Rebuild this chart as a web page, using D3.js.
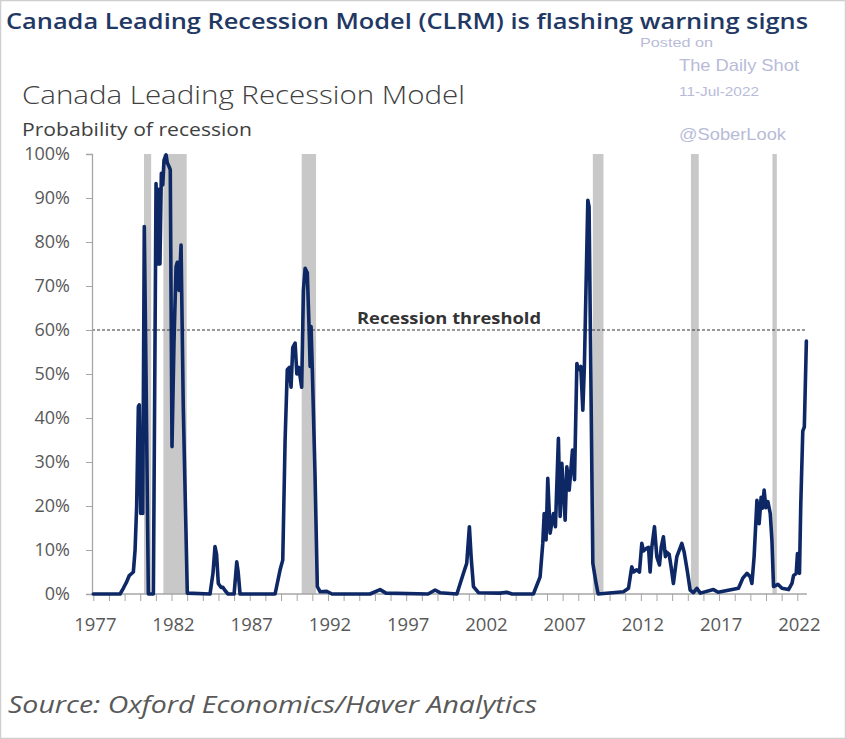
<!DOCTYPE html>
<html><head><meta charset="utf-8">
<script src="https://cdn.jsdelivr.net/npm/d3@7"></script>
<style>body{margin:0;background:#fff} svg{display:block}</style>
</head><body><svg id="chart" width="846" height="739"></svg>
<script>
// ---- data ----
const years = [1977.00,1978.71,1978.92,1979.14,1979.30,1979.56,1979.67,1979.77,1979.88,1979.94,1980.03,1980.09,1980.16,1980.26,1980.37,1980.52,1980.84,
1981.01,1981.09,1981.18,1981.26,1981.35,1981.44,1981.52,1981.65,1981.73,1981.86,1981.92,1982.03,1982.16,1982.29,1982.37,1982.48,1982.61,1982.75,1983.01,
1984.46,1984.65,1984.78,1984.88,1984.99,1985.17,1985.29,1985.42,1985.61,1986.00,1986.17,1986.26,1986.38,
1988.62,1988.94,1989.11,1989.26,1989.40,1989.53,1989.64,1989.75,1989.90,1990.01,1990.13,1990.32,1990.43,1990.54,1990.68,1990.79,1990.86,1990.92,1991.00,1991.17,1991.32,1991.50,1991.92,1992.26,
1994.69,1995.33,1995.71,1998.40,1998.85,1999.16,2000.24,2000.66,2000.87,2001.04,2001.15,2001.30,2001.62,2003.00,2003.43,2003.77,
2005.13,2005.56,2005.73,2005.82,2005.94,2006.05,2006.20,2006.41,2006.54,2006.73,2006.84,2006.95,2007.16,2007.27,2007.42,2007.63,2007.76,2007.91,2008.01,2008.16,2008.29,2008.39,2008.61,2008.69,2008.93,2009.14,2009.27,
2010.89,2011.21,2011.42,2011.53,2011.74,2011.91,2012.06,2012.17,2012.34,2012.49,2012.59,2012.70,2012.87,2013.02,2013.19,2013.30,2013.44,2013.57,2013.66,2013.81,2013.94,2014.08,2014.30,2014.62,2014.77,2014.98,2015.15,2015.36,2015.58,2015.80,2016.64,2016.94,
2018.24,2018.52,2018.78,2018.99,2019.10,2019.24,2019.42,2019.56,2019.69,2019.77,2019.88,2019.99,2020.12,2020.27,2020.38,2020.48,2020.76,2021.02,2021.44,2021.66,2021.76,2021.93,2022.01,2022.14,2022.22,2022.35,2022.45,2022.58];
const probability = [0,0,1.3,2.8,4.2,5,10,19.8,42.6,43,18.3,35,18.3,83.5,50,0,0,
93.3,75,92,75,95.6,93,98.6,99.8,98,97,96.4,33.5,57.7,74.4,75.4,69,79.3,42.6,0.2,
0,4.7,10.8,9,2.4,1.5,1.5,0.8,0,0,7.3,5,0,
0,5.5,7.7,35,51,51.5,47,56,57,50,51.5,47,69,74,73,60.8,51.7,60.8,51,27.5,1.7,0.5,0.6,0,
0,1,0.2,0,0.9,0.3,0,4.7,7,15.3,8.5,1.7,0.3,0.2,0.4,0,
0,3.9,11.5,18.3,12.3,26.3,13.8,18.3,15.3,35.4,17.6,29.7,16.8,28.9,23.6,32.7,26,52.4,51,51.7,41.8,51.7,89.5,88,7,2.4,0,
0.5,1.3,6.2,5,5.5,5,11.5,9.8,10.3,10.6,5,10.6,15.3,8.5,6.6,10.6,13,8.5,9.5,9,6,2.4,8.5,11.5,9.5,5,0.9,0.3,1.3,0.2,1,0.4,
1.3,3.6,4.7,3.9,2.4,8.5,21.3,16,22,19.5,23.6,19.6,21,18.3,12,1.7,2.2,1.3,1,2.4,4.2,4.7,9.2,4.7,20,37,38,57.5];
const recessionStarts = [1980.24, 1981.48, 1990.32, 2008.93, 2015.20, 2020.41];
const recessionEnds   = [1980.70, 1982.97, 1991.24, 2009.61, 2015.70, 2020.69];
const yTicks = [0,10,20,30,40,50,60,70,80,90,100];
const xLabelYears = [1977,1982,1987,1992,1997,2002,2007,2012,2017,2022];
const threshold = 60;

// ---- drawing ----
const svg = d3.select("#chart");
const W = 846, H = 739;
svg.append("rect").attr("x",0.5).attr("y",0.5).attr("width",W-1).attr("height",H-1)
  .attr("fill","#fff").attr("stroke","#cfcfcf").attr("stroke-width",1.5);

const x = d3.scaleLinear().domain([1977, 2022]).range([93.3, 797.3]);
const y = d3.scaleLinear().domain([0, 100]).range([594, 154]);
const axisX0 = 92, axisX1 = x(d3.max(years)) + 0.5;

// recession bars
svg.append("g").selectAll("rect").data(recessionStarts).join("rect")
  .attr("x", (d,i) => x(d))
  .attr("width", (d,i) => x(recessionEnds[i]) - x(d))
  .attr("y", y(100)).attr("height", y(0) - y(100))
  .attr("fill", "#c8c8c8");

// threshold line
svg.append("line").attr("x1", axisX0).attr("x2", axisX1)
  .attr("y1", y(threshold)).attr("y2", y(threshold))
  .attr("stroke", "#333").attr("stroke-width", 1.2).attr("stroke-dasharray", "3,2");
svg.append("text").attr("x", 357).attr("y", y(threshold) - 6)
  .attr("font-family","'Open Sans', sans-serif")
  .attr("font-weight",700).attr("font-size",16.5).attr("fill","#333")
  .attr("textLength", 184).attr("lengthAdjust","spacingAndGlyphs")
  .text("Recession threshold");

// x axis
const xAxis = d3.axisBottom(x).tickValues(d3.range(1977, 2023))
  .tickSize(7).tickPadding(17)
  .tickFormat(d => xLabelYears.includes(d) ? String(d) : "");
const gx = svg.append("g").attr("transform", `translate(0,${y(0)})`).call(xAxis);
gx.select(".domain").remove();
gx.selectAll(".tick line").attr("stroke", "#a6a6a6");
gx.selectAll(".tick text").attr("font-family","'Open Sans', sans-serif")
  .attr("font-size", 18.5).attr("fill", "#595959").attr("dx", 1.5);
svg.append("line").attr("x1", axisX0).attr("x2", axisX1)
  .attr("y1", y(0)).attr("y2", y(0)).attr("stroke","#a6a6a6").attr("stroke-width",1.3);

// y axis
const yAxis = d3.axisLeft(y).tickValues(yTicks).tickSize(6).tickPadding(16)
  .tickFormat(d => d + "%");
const gy = svg.append("g").attr("transform", `translate(${axisX0},0)`).call(yAxis);
gy.select(".domain").attr("stroke","#a6a6a6").attr("stroke-width",1.3);
gy.selectAll(".tick line").attr("stroke", "#a6a6a6");
gy.selectAll(".tick text").attr("font-family","'Open Sans', sans-serif")
  .attr("font-size", 18).attr("fill", "#595959");

// the series
const line = d3.line().x((d,i) => x(years[i])).y(d => y(d)).curve(d3.curveLinear);
svg.append("path").datum(probability).attr("d", line)
  .attr("fill","none").attr("stroke","#0e2866").attr("stroke-width",3.6)
  .attr("stroke-linejoin","round").attr("stroke-linecap","round");

// titles
svg.append("text").attr("x", 6).attr("y", 29)
  .attr("font-family","'Open Sans', sans-serif").attr("font-weight",600)
  .attr("font-size", 22).attr("fill","#1f3864")
  .attr("textLength", 802).attr("lengthAdjust","spacingAndGlyphs")
  .text("Canada Leading Recession Model (CLRM) is flashing warning signs");
svg.append("text").attr("x", 22).attr("y", 104)
  .attr("font-family","'Open Sans', sans-serif").attr("font-weight",300)
  .attr("font-size", 26).attr("fill","#404040")
  .attr("textLength", 443).attr("lengthAdjust","spacingAndGlyphs")
  .text("Canada Leading Recession Model");
svg.append("text").attr("x", 22).attr("y", 136)
  .attr("font-family","'Open Sans', sans-serif")
  .attr("font-size", 18).attr("fill","#404040")
  .attr("textLength", 230).attr("lengthAdjust","spacingAndGlyphs")
  .text("Probability of recession");
svg.append("text").attr("x", 8).attr("y", 713)
  .attr("font-family","'Open Sans', sans-serif").attr("font-style","italic")
  .attr("font-size", 24).attr("fill","#595959")
  .attr("textLength", 529).attr("lengthAdjust","spacingAndGlyphs")
  .text("Source: Oxford Economics/Haver Analytics");

// watermark
const wm = [
  {t:"Posted on", x:640, y:47, s:12.5, w:73},
  {t:"The Daily Shot", x:679, y:71, s:17, w:120},
  {t:"11-Jul-2022", x:679, y:96, s:13, w:80},
  {t:"@SoberLook", x:679, y:140, s:17, w:107}
];
svg.append("g").selectAll("text").data(wm).join("text")
  .attr("x", d => d.x).attr("y", d => d.y)
  .attr("font-family","'Liberation Sans', Arial, sans-serif")
  .attr("font-size", d => d.s).attr("fill","#b8bbd8")
  .attr("textLength", d => d.w).attr("lengthAdjust","spacingAndGlyphs")
  .text(d => d.t);
</script>
</body></html>
